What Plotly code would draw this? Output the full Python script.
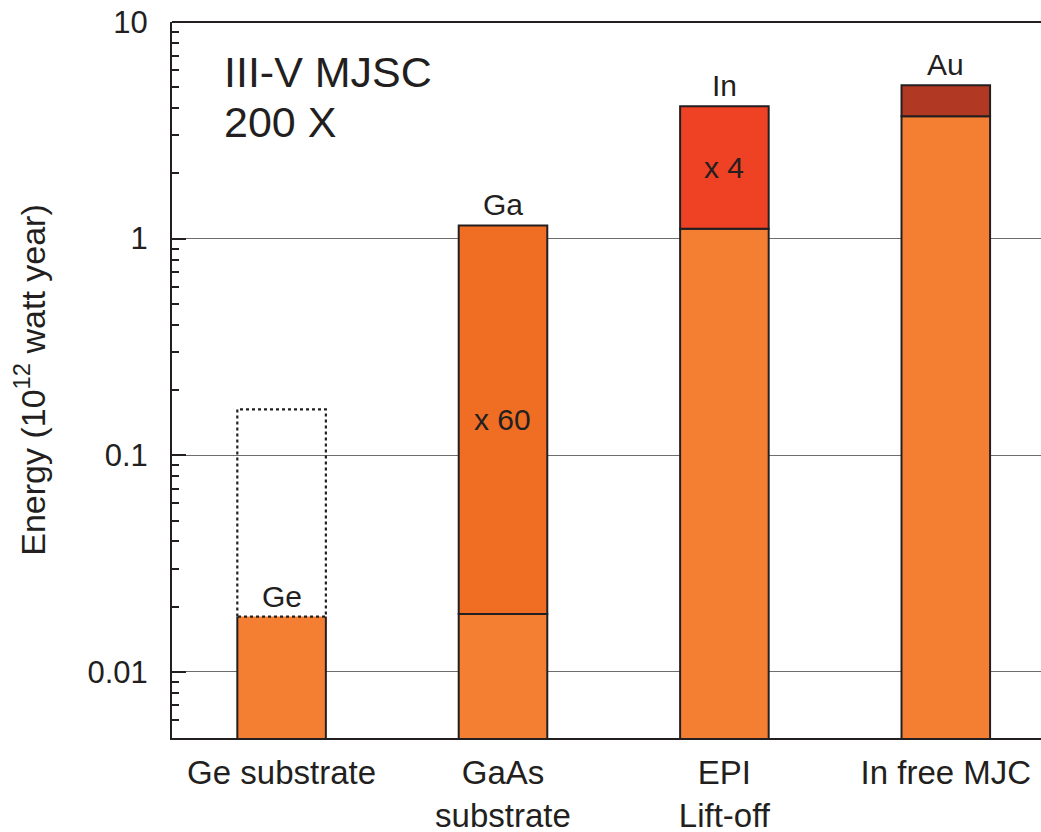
import math
import plotly.graph_objects as go

# ---- data ----
categories = ["Ge substrate", "GaAs<br>substrate", "EPI<br>Lift-off", "In free MJC"]
base_energy = [0.018, 0.0185, 1.11, 3.67]          # lower (orange) segment top
top_energy = [None, 1.15, 4.08, 5.1]               # upper segment top
top_colors = [None, "#EF6E24", "#EF4124", "#B13823"]
element_labels = ["Ge", "Ga", "In", "Au"]
multiplier_labels = [None, "x 60", "x 4", None]
ge_potential = 0.163                                # dotted Ge box top
y_tick_vals = [0.01, 0.1, 1, 10]
y_tick_text = ["0.01", "0.1", "1", "10"]

FONT = "Liberation Sans, Arial, sans-serif"
DARK = "#231F20"
BASE_COLOR = "#F47F32"
BAR_W = 0.4
xs = list(range(len(categories)))
YLOG_MIN = -2.305

fig = go.Figure()

# lower segments
fig.add_trace(go.Bar(
    x=xs, y=base_energy, width=BAR_W,
    marker=dict(color=BASE_COLOR,
                line=dict(color=DARK, width=[0, 2, 2, 2])),
    hoverinfo="skip", showlegend=False))

# upper segments
up_x = [i for i in xs if top_energy[i] is not None]
fig.add_trace(go.Bar(
    x=up_x,
    base=[base_energy[i] for i in up_x],
    y=[top_energy[i] - base_energy[i] for i in up_x],
    width=BAR_W,
    marker=dict(color=[top_colors[i] for i in up_x], line=dict(color=DARK, width=2)),
    hoverinfo="skip", showlegend=False))

# Ge bar solid sides
ymin = 10 ** YLOG_MIN
fig.add_trace(go.Scatter(
    x=[0 - BAR_W / 2, 0 - BAR_W / 2, None, 0 + BAR_W / 2, 0 + BAR_W / 2],
    y=[ymin, base_energy[0], None, ymin, base_energy[0]],
    mode="lines", line=dict(color=DARK, width=2),
    hoverinfo="skip", showlegend=False))

# Dotted Ge box
fig.add_trace(go.Scatter(
    x=[-BAR_W / 2, -BAR_W / 2, BAR_W / 2, BAR_W / 2, -BAR_W / 2],
    y=[base_energy[0], ge_potential, ge_potential, base_energy[0], base_energy[0]],
    mode="lines", line=dict(color=DARK, width=2.2, dash="dot"),
    hoverinfo="skip", showlegend=False))

# element labels above bars (annotation y on log axis is given in log10)
for i in xs:
    ytop = top_energy[i] if (top_energy[i] is not None) else base_energy[i]
    fig.add_annotation(x=i, y=math.log10(ytop), text=element_labels[i], showarrow=False,
                       yanchor="bottom", yshift=2, xref="x", yref="y",
                       font=dict(family=FONT, size=30, color=DARK))
    if multiplier_labels[i]:
        ymid = 0.5 * (math.log10(base_energy[i]) + math.log10(top_energy[i]))
        fig.add_annotation(x=i, y=ymid, text=multiplier_labels[i], showarrow=False,
                           xref="x", yref="y",
                           font=dict(family=FONT, size=30, color=DARK))

# chart caption
fig.add_annotation(x=0.0575, y=0.966, xref="paper", yref="paper", text="III-V MJSC",
                   showarrow=False, xanchor="left", yanchor="top",
                   font=dict(family=FONT, size=43, color=DARK))
fig.add_annotation(x=0.0575, y=0.896, xref="paper", yref="paper", text="200 X",
                   showarrow=False, xanchor="left", yanchor="top",
                   font=dict(family=FONT, size=43, color=DARK))

# top border
fig.add_shape(type="line", xref="paper", yref="paper", x0=0, x1=1, y0=1, y1=1,
              line=dict(color=DARK, width=2))

minor_vals = [m * 10 ** e for e in range(-3, 1) for m in range(2, 10)]
minor_vals = [v for v in minor_vals if ymin < v < 10]

fig.update_layout(
    width=1041, height=832,
    margin=dict(l=172, r=0, t=22, b=94),
    paper_bgcolor="white", plot_bgcolor="white",
    barmode="overlay",
    font=dict(family=FONT, color=DARK),
    xaxis=dict(range=[-0.495, 3.43], tickvals=xs, ticktext=categories,
               tickfont=dict(size=33, family=FONT, color=DARK),
               showgrid=False, zeroline=False, showline=True, linecolor=DARK,
               linewidth=2, ticks="", ticklabelstandoff=4, automargin=False),
    yaxis=dict(type="log", range=[YLOG_MIN, 1], tickvals=y_tick_vals, ticktext=y_tick_text,
               tickfont=dict(size=31, family=FONT, color=DARK),
               ticks="inside", ticklen=14, tickwidth=2, tickcolor=DARK,
               showline=True, linecolor=DARK, linewidth=2,
               showgrid=True, gridcolor="#6d6d6d", gridwidth=1.3,
               zeroline=False, ticklabelstandoff=16, automargin=False,
               minor=dict(tickvals=minor_vals, ticks="inside", ticklen=7,
                          tickwidth=2, tickcolor=DARK, showgrid=False),
               title=dict(text="Energy (10<sup>12</sup> watt year)",
                          font=dict(size=34, family=FONT, color=DARK), standoff=32)),
)

fig.write_html("out.html", config={"displayModeBar": False},
               post_script="document.body.style.margin='0';document.body.style.overflow='hidden';")
